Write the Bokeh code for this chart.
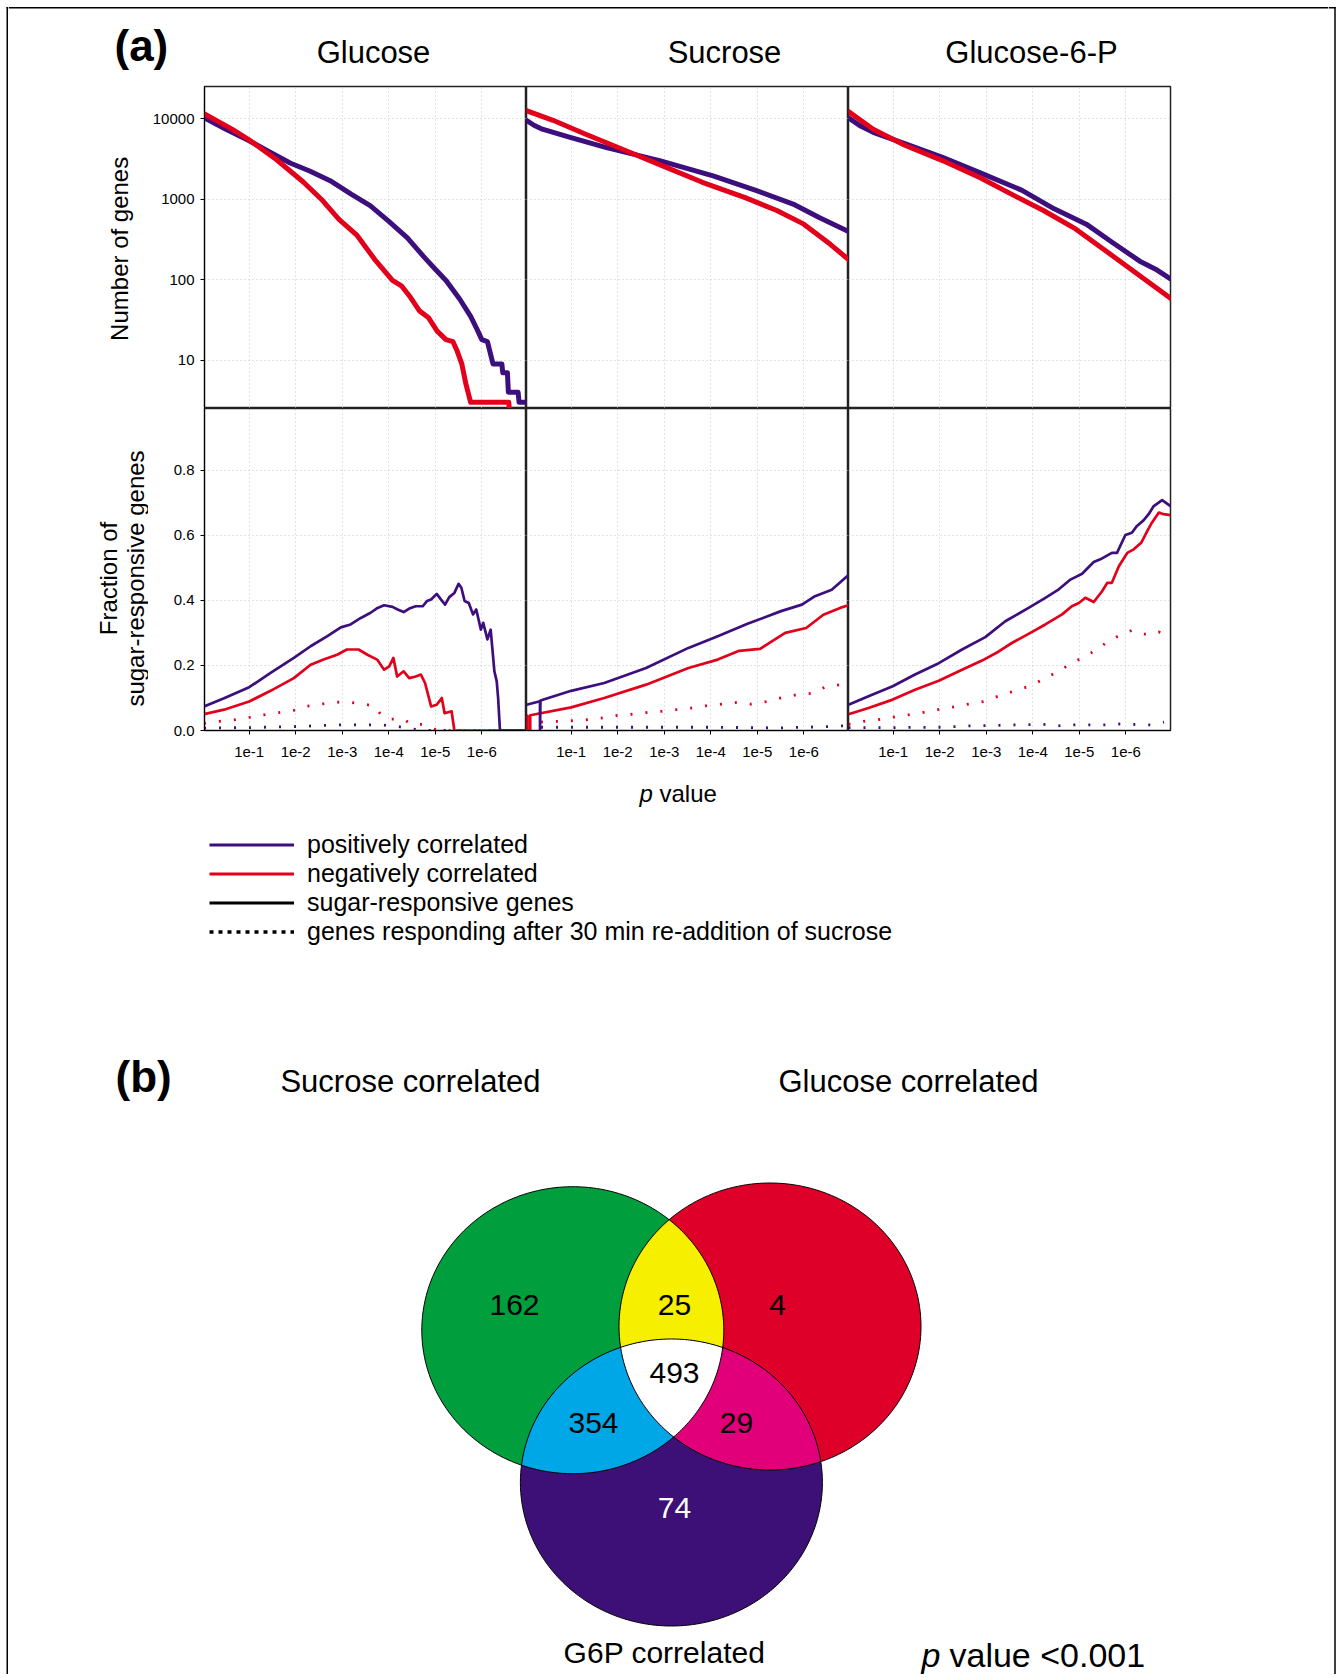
import math
import numpy as np
from bokeh.plotting import figure
from bokeh.layouts import column, row
from bokeh.models import Range1d, FixedTicker, PrintfTickFormatter, Legend, LegendItem
from bokeh.core.properties import value
from bokeh.embed import file_html
from bokeh.resources import INLINE

# ------------------------------------------------------------------ data
panel_titles = ["Glucose", "Sucrose", "Glucose-6-P"]
x_tick_values = [1, 2, 3, 4, 5, 6]
x_tick_labels = ["1e-1", "1e-2", "1e-3", "1e-4", "1e-5", "1e-6"]
count_ticks = [10, 100, 1000, 10000]
fraction_ticks = [0.0, 0.2, 0.4, 0.6, 0.8]
X_RANGE = (0.04, 6.96)
COUNT_RANGE = (10 ** 0.4, 10 ** 4.4)
FRACTION_RANGE = (0.0, 0.99)

# top row: number of genes (x = -log10 p)
glc_n_pos_x = [0.04, 0.50, 0.99, 1.40, 1.88, 2.30, 2.74, 3.20, 3.60, 3.99, 4.40, 4.76, 5.00, 5.23,
               5.52, 5.76, 5.90, 6.00, 6.12, 6.24, 6.43, 6.45, 6.55, 6.57, 6.78, 6.80, 6.96]
glc_n_pos_y = [10233, 7400, 5370, 3981, 2818, 2239, 1698, 1148, 832, 537, 331, 191, 135, 98,
               58, 35, 24, 18, 17, 9, 9, 7, 7, 4, 4, 3, 3]
glc_n_neg_x = [0.04, 0.63, 0.99, 1.59, 2.17, 2.55, 2.93, 3.32, 3.70, 4.08, 4.28, 4.47, 4.66, 4.85,
               5.04, 5.23, 5.38, 5.47, 5.57, 5.66, 5.76, 6.58, 6.60]
glc_n_neg_y = [11482, 7413, 5495, 3090, 1622, 1000, 562, 355, 178, 98, 83, 60, 41, 34,
               23, 18, 17, 13, 9, 5, 3, 3, 2]
suc_n_pos_x = [0.04, 0.20, 0.38, 0.96, 1.76, 2.90, 4.05, 4.97, 5.77, 6.34, 6.96]
suc_n_pos_y = [9550, 8300, 7413, 5888, 4365, 3020, 1950, 1288, 871, 589, 398]
suc_n_neg_x = [0.04, 0.61, 1.30, 2.10, 2.90, 3.82, 4.74, 5.42, 6.00, 6.57, 6.96]
suc_n_neg_y = [12589, 9550, 6457, 4169, 2692, 1622, 1047, 724, 490, 275, 178]
g6p_n_pos_x = [0.04, 0.30, 0.57, 1.25, 2.06, 2.86, 3.77, 4.46, 5.15, 5.72, 6.30, 6.64, 6.96]
g6p_n_pos_y = [10233, 8100, 6761, 4898, 3311, 2138, 1288, 759, 490, 288, 170, 135, 102]
g6p_n_neg_x = [0.04, 0.57, 1.25, 2.06, 2.86, 3.55, 4.23, 4.92, 5.61, 6.30, 6.96]
g6p_n_neg_y = [12303, 7413, 4677, 3020, 1862, 1148, 724, 427, 219, 112, 59]

# bottom row: fraction of sugar-responsive genes (solid) and re-addition responders (dotted)
glc_f_pos_x = [0.03, 0.46, 1.0, 1.46, 1.96, 2.32, 2.68, 2.97, 3.18, 3.40, 3.61, 3.76, 3.90, 4.08,
               4.19, 4.32, 4.44, 4.58, 4.73, 4.82, 4.91, 5.03, 5.12, 5.21, 5.30, 5.41, 5.50, 5.56,
               5.63, 5.72, 5.81, 5.88, 5.98, 6.03, 6.12, 6.19, 6.27, 6.32, 6.35, 6.39, 6.96]
glc_f_pos_y = [0.074, 0.099, 0.133, 0.177, 0.223, 0.259, 0.290, 0.317, 0.326, 0.346, 0.362, 0.377,
               0.385, 0.380, 0.372, 0.364, 0.375, 0.382, 0.382, 0.398, 0.403, 0.420, 0.403, 0.387,
               0.410, 0.423, 0.451, 0.439, 0.398, 0.392, 0.357, 0.372, 0.310, 0.331, 0.280, 0.310,
               0.182, 0.151, 0.100, 0.0, 0.0]
glc_f_neg_x = [0.03, 0.46, 1.0, 1.46, 1.96, 2.32, 2.60, 2.89, 3.10, 3.35, 3.54, 3.75, 3.90, 4.01,
               4.10, 4.18, 4.32, 4.44, 4.58, 4.69, 4.78, 4.91, 5.03, 5.14, 5.20, 5.35, 5.41, 6.96]
glc_f_neg_y = [0.050, 0.064, 0.089, 0.122, 0.161, 0.202, 0.218, 0.233, 0.249, 0.249, 0.233, 0.218,
               0.187, 0.197, 0.223, 0.166, 0.182, 0.161, 0.166, 0.172, 0.146, 0.074, 0.079, 0.100,
               0.053, 0.059, 0.0, 0.0]
glc_r_neg_x = [0.03, 0.35, 0.68, 1.0, 1.32, 1.64, 1.96, 2.29, 2.59, 2.89, 3.19, 3.45, 3.68, 3.84,
               4.04, 4.32, 4.49, 4.76, 5.05, 6.96]
glc_r_neg_y = [0.022, 0.028, 0.033, 0.040, 0.048, 0.055, 0.062, 0.076, 0.082, 0.087, 0.086, 0.081,
               0.076, 0.048, 0.035, 0.035, 0.018, 0.019, 0.0, 0.0]
glc_r_pos_x = [0.03, 0.35, 1.0, 1.96, 2.89, 3.84, 4.20, 4.49, 4.80, 6.96]
glc_r_pos_y = [0.007, 0.008, 0.009, 0.012, 0.017, 0.017, 0.012, 0.005, 0.0, 0.0]

suc_f_pos_x = [0.04, 0.33, 0.33, 0.34, 1.0, 1.71, 2.61, 3.52, 4.15, 4.79, 5.51, 5.96, 6.24, 6.60, 6.96]
suc_f_pos_y = [0.079, 0.090, 0.0, 0.092, 0.122, 0.146, 0.192, 0.254, 0.290, 0.328, 0.367, 0.387,
               0.413, 0.433, 0.478]
suc_f_neg_x = [0.04, 0.06, 0.06, 0.12, 0.12, 1.0, 1.71, 2.61, 3.52, 4.15, 4.61, 5.06, 5.60, 6.05,
               6.42, 6.78, 6.96]
suc_f_neg_y = [0.045, 0.045, 0.0, 0.0, 0.047, 0.071, 0.100, 0.141, 0.192, 0.218, 0.245, 0.251,
               0.300, 0.315, 0.356, 0.377, 0.385]
suc_r_neg_x = [0.03, 0.35, 0.66, 1.0, 1.32, 1.64, 1.98, 2.30, 2.61, 2.94, 3.26, 3.58, 3.90, 4.22,
               4.54, 4.87, 5.19, 5.51, 5.84, 6.16, 6.48, 6.78]
suc_r_neg_y = [0.020, 0.026, 0.028, 0.030, 0.033, 0.038, 0.046, 0.050, 0.055, 0.059, 0.064, 0.069,
               0.076, 0.081, 0.086, 0.081, 0.089, 0.100, 0.110, 0.114, 0.135, 0.141]
suc_r_pos_x = [0.03, 2.0, 4.0, 5.5, 6.0, 6.5, 6.96]
suc_r_pos_y = [0.010, 0.010, 0.010, 0.008, 0.010, 0.012, 0.015]

g6p_f_pos_x = [0.04, 0.47, 0.99, 1.47, 1.98, 2.48, 2.98, 3.41, 3.91, 4.27, 4.56, 4.81, 5.06, 5.31,
               5.49, 5.70, 5.81, 5.99, 6.13, 6.24, 6.38, 6.49, 6.60, 6.78, 6.96]
g6p_f_pos_y = [0.079, 0.105, 0.136, 0.172, 0.207, 0.249, 0.287, 0.336, 0.377, 0.408, 0.434, 0.464,
               0.482, 0.518, 0.529, 0.546, 0.546, 0.601, 0.608, 0.629, 0.646, 0.665, 0.690, 0.708, 0.690]
g6p_f_neg_x = [0.04, 0.47, 0.99, 1.47, 1.98, 2.48, 2.91, 3.27, 3.55, 3.91, 4.27, 4.63, 4.84, 4.99,
               5.13, 5.31, 5.49, 5.60, 5.70, 5.85, 6.03, 6.17, 6.33, 6.46, 6.56, 6.71, 6.81, 6.96]
g6p_f_neg_y = [0.050, 0.069, 0.095, 0.125, 0.153, 0.187, 0.215, 0.243, 0.269, 0.297, 0.326, 0.357,
               0.382, 0.392, 0.408, 0.395, 0.428, 0.454, 0.454, 0.505, 0.546, 0.557, 0.577, 0.613,
               0.639, 0.670, 0.665, 0.662]
g6p_r_neg_x = [0.04, 0.36, 0.67, 0.99, 1.32, 1.63, 1.96, 2.28, 2.61, 2.93, 3.25, 3.57, 3.90, 4.21,
               4.52, 4.81, 5.11, 5.39, 5.63, 5.88, 6.13, 6.33, 6.53, 6.71, 6.89]
g6p_r_neg_y = [0.019, 0.028, 0.033, 0.041, 0.048, 0.055, 0.064, 0.072, 0.081, 0.089, 0.105, 0.120,
               0.135, 0.156, 0.180, 0.204, 0.228, 0.249, 0.276, 0.293, 0.308, 0.297, 0.295, 0.303, 0.284]
g6p_r_pos_x = [0.04, 1.0, 2.0, 2.61, 3.57, 4.21, 4.52, 4.81, 5.50, 5.85, 6.53, 6.82]
g6p_r_pos_y = [0.009, 0.009, 0.010, 0.014, 0.017, 0.019, 0.014, 0.017, 0.017, 0.020, 0.017, 0.026]

legend_labels = ["positively correlated", "negatively correlated", "sugar-responsive genes",
                 "genes responding after 30 min re-addition of sucrose"]

venn_set_names = ["Sucrose correlated", "Glucose correlated", "G6P correlated"]
venn_regions = ["Sucrose", "Sucrose+Glucose", "Glucose", "all three", "Sucrose+G6P", "Glucose+G6P", "G6P"]
venn_counts = [162, 25, 4, 493, 354, 29, 74]

# ------------------------------------------------------------------ styles / layout
FONT = "Liberation Sans"
PURPLE = "#3C0F7D"
RED = "#E2001B"
GRID = "#c4c4c4"
EDGE = 8                      # strips that carry the outer frame
W = 1320                      # inner width
HEAD_H = 84
FRAME = 322
AXIS_W = 56
LEFT_W = 196 - AXIS_W
BOT_AXIS_H = 45
TOP_ROW_H = FRAME + 2
BOT_ROW_H = FRAME + BOT_AXIS_H
BOTTOM_H = 899
TOTAL_H = HEAD_H + TOP_ROW_H + BOT_ROW_H + BOTTOM_H
BASE_SHIFT = 0.36             # em; renderer places the alphabetic baseline this much lower


def txt(p, x, y, s, size, align="left", style="normal", color="black", angle=0.0, baseline="alphabetic"):
    if baseline == "alphabetic":
        y = y - BASE_SHIFT * size
    p.text(x=[x], y=[y], text=[s], text_font=value(FONT), text_font_size="%gpx" % size,
           text_align=align, text_baseline=baseline, text_font_style=style,
           text_color=color, angle=angle)


def blank(w, h, flip=True, **kw):
    fh = h - kw.get("min_border_top", 0) - kw.get("min_border_bottom", 0)
    args = dict(min_border=0)
    args.update(kw)
    p = figure(width=w, height=h, output_backend="svg", toolbar_location=None,
               x_range=Range1d(0, w), y_range=Range1d(fh, 0) if flip else Range1d(0, fh),
               x_axis_location=None, y_axis_location=None, **args)
    p.grid.visible = False
    p.outline_line_color = None
    return p


def panel(col, top):
    kw = dict(frame_width=FRAME, frame_height=FRAME, output_backend="svg", toolbar_location=None,
              x_range=Range1d(*X_RANGE),
              min_border_left=AXIS_W if col == 0 else 0,
              min_border_right=2 if col == 2 else 0,
              min_border_top=2 if top else 0,
              min_border_bottom=0 if top else BOT_AXIS_H,
              x_axis_location=None if top else "below",
              y_axis_location="left" if col == 0 else None)
    if top:
        p = figure(y_axis_type="log", y_range=Range1d(*COUNT_RANGE), **kw)
        yt = count_ticks
    else:
        p = figure(y_range=Range1d(*FRACTION_RANGE), **kw)
        yt = fraction_ticks
    p.xgrid.ticker = FixedTicker(ticks=x_tick_values)
    p.ygrid.ticker = FixedTicker(ticks=yt)
    p.grid.grid_line_color = GRID
    p.grid.grid_line_dash = "1 3"
    p.grid.grid_line_width = 1
    p.outline_line_color = "#222222"
    p.outline_line_width = 1.5
    for ax in p.xaxis:
        ax.ticker = FixedTicker(ticks=x_tick_values)
        ax.major_label_overrides = dict(zip(x_tick_values, x_tick_labels))
        ax.major_label_text_font_size = "15px"
        ax.major_label_standoff = 12
    for ax in p.yaxis:
        ax.ticker = FixedTicker(ticks=yt)
        ax.formatter = PrintfTickFormatter(format="%d" if top else "%.1f")
        ax.major_label_text_font_size = "15px"
        ax.major_label_standoff = 6
    for ax in list(p.xaxis) + list(p.yaxis):
        ax.major_tick_out = 4
        ax.major_tick_in = 0
        ax.minor_tick_line_color = None
        ax.axis_line_color = "black"
        ax.major_tick_line_color = "black"
        ax.major_label_text_font = FONT
        ax.major_label_text_color = "black"
    return p


top_series = [(glc_n_pos_x, glc_n_pos_y, glc_n_neg_x, glc_n_neg_y),
              (suc_n_pos_x, suc_n_pos_y, suc_n_neg_x, suc_n_neg_y),
              (g6p_n_pos_x, g6p_n_pos_y, g6p_n_neg_x, g6p_n_neg_y)]
bot_series = [(glc_f_pos_x, glc_f_pos_y, glc_f_neg_x, glc_f_neg_y, glc_r_pos_x, glc_r_pos_y, glc_r_neg_x, glc_r_neg_y),
              (suc_f_pos_x, suc_f_pos_y, suc_f_neg_x, suc_f_neg_y, suc_r_pos_x, suc_r_pos_y, suc_r_neg_x, suc_r_neg_y),
              (g6p_f_pos_x, g6p_f_pos_y, g6p_f_neg_x, g6p_f_neg_y, g6p_r_pos_x, g6p_r_pos_y, g6p_r_neg_x, g6p_r_neg_y)]

top_panels = []
for c, (px, py, nx, ny) in enumerate(top_series):
    p = panel(c, True)
    p.line(px, py, line_color=PURPLE, line_width=5, line_cap="round", line_join="round")
    p.line(nx, ny, line_color=RED, line_width=5, line_cap="round", line_join="round")
    top_panels.append(p)

bot_panels = []
for c, (px, py, nx, ny, rpx, rpy, rnx, rny) in enumerate(bot_series):
    p = panel(c, False)
    p.line(rnx, rny, line_color=RED, line_width=2.8, line_dash="2 13")
    p.line(rpx, rpy, line_color=PURPLE, line_width=2.8, line_dash="2 13")
    p.line(nx, ny, line_color=RED, line_width=2.7, line_join="round")
    p.line(px, py, line_color=PURPLE, line_width=2.7, line_join="round")
    bot_panels.append(p)

# outer frame strips
lstrip = blank(EDGE, TOTAL_H)
lstrip.segment(x0=[6.75], y0=[6.5], x1=[6.75], y1=[TOTAL_H], line_color="black", line_width=1.5)
lstrip.segment(x0=[6.0], y0=[7.25], x1=[EDGE], y1=[7.25], line_color="black", line_width=1.5)
rstrip = blank(EDGE, TOTAL_H)
rstrip.segment(x0=[6.5], y0=[6.5], x1=[6.5], y1=[TOTAL_H], line_color="black", line_width=1.5)
rstrip.segment(x0=[0], y0=[7.25], x1=[7.25], y1=[7.25], line_color="black", line_width=1.5)

# header
head = blank(W, HEAD_H)
head.segment(x0=[0], y0=[7.25], x1=[W], y1=[7.25], line_color="black", line_width=1.5)
txt(head, 106, 61, "(a)", 44, style="bold")
for t, cx in zip(panel_titles, [365, 716, 1023]):
    txt(head, cx, 63, t, 31, align="center")

# y-axis titles
lt = blank(LEFT_W, TOP_ROW_H, flip=False, min_border_top=2)
txt(lt, 111, 163, "Number  of genes", 24, align="center", baseline="middle", angle=math.pi / 2)
lb = blank(LEFT_W, BOT_ROW_H, flip=False, min_border_bottom=BOT_AXIS_H)
txt(lb, 100, 152, "Fraction of", 24, align="center", baseline="middle", angle=math.pi / 2)
txt(lb, 127, 152, "sugar-responsive genes", 24, align="center", baseline="middle", angle=math.pi / 2)

# bottom area: x-axis title, legend, Venn diagram
bot = blank(W, BOTTOM_H)
txt(bot, 631, 27, "p", 24, style="italic")
txt(bot, 651, 27, "value", 24)

leg_styles = [(PURPLE, None, 3.2), (RED, None, 3.2), ("black", None, 3.2), ("black", "4 5", 3.5)]
items = []
for lab, (colr, dash, lw) in zip(legend_labels, leg_styles):
    kwl = dict(line_color=colr, line_width=lw)
    if dash:
        kwl["line_dash"] = dash
    r = bot.line(x=[-50, -40], y=[-50, -50], **kwl)
    items.append(LegendItem(label=lab, renderers=[r]))
legend = Legend(items=items, location=(201, BOTTOM_H - 171), orientation="vertical",
                glyph_width=85, glyph_height=27, label_height=27, label_standoff=13,
                spacing=0, padding=0, margin=0, border_line_color=None,
                background_fill_alpha=0, label_text_font=FONT, label_text_font_size="25px",
                label_text_line_height=1.0, label_text_color="black")
bot.add_layout(legend)

txt(bot, 107, 317, "(b)", 44, style="bold")
txt(bot, 402, 317, venn_set_names[0], 31, align="center")
txt(bot, 900, 317, venn_set_names[1], 31, align="center")
txt(bot, 656, 888, venn_set_names[2], 30, align="center")
txt(bot, 913, 892, "p", 34, style="italic")
txt(bot, 941, 892, "value <0.001", 34)

# Venn geometry (layout, pixels of the bottom area)
RX, RY = 151.0, 143.5
centers = {"S": (564.3, 554.7), "G": (761.5, 551.0), "P": (662.9, 707.0)}


def ellipse(c, n=360):
    t = np.linspace(0, 2 * np.pi, n, endpoint=False)
    return [(c[0] + RX * math.cos(a), c[1] + RY * math.sin(a)) for a in t]


def area(poly):
    s = 0.0
    for i in range(len(poly)):
        x1, y1 = poly[i]
        x2, y2 = poly[(i + 1) % len(poly)]
        s += x1 * y2 - x2 * y1
    return s / 2


def clip(subject, clipper):
    sgn = 1.0 if area(clipper) > 0 else -1.0
    out = subject
    n = len(clipper)
    for i in range(n):
        a = clipper[i]
        b = clipper[(i + 1) % n]
        inp, out = out, []
        if not inp:
            break

        def inside(q):
            return sgn * ((b[0] - a[0]) * (q[1] - a[1]) - (b[1] - a[1]) * (q[0] - a[0])) >= 0

        def inter(p1, p2):
            dx1, dy1 = p2[0] - p1[0], p2[1] - p1[1]
            dx2, dy2 = b[0] - a[0], b[1] - a[1]
            den = dx1 * dy2 - dy1 * dx2
            if den == 0:
                return p2
            t = ((a[0] - p1[0]) * dy2 - (a[1] - p1[1]) * dx2) / den
            return (p1[0] + t * dx1, p1[1] + t * dy1)

        prev = inp[-1]
        for cur in inp:
            if inside(cur):
                if not inside(prev):
                    out.append(inter(prev, cur))
                out.append(cur)
            elif inside(prev):
                out.append(inter(prev, cur))
            prev = cur
    return out


E = {k: ellipse(v) for k, v in centers.items()}
SG = clip(E["S"], E["G"])
SP = clip(E["S"], E["P"])
GP = clip(E["G"], E["P"])
SGP = clip(SG, E["P"])
fills = [(E["S"], "#009E3D"), (E["G"], "#DF0029"), (E["P"], "#3D1078"),
         (SG, "#F6EF00"), (SP, "#00A7E6"), (GP, "#E2007A"), (SGP, "#FFFFFF")]
for poly, colr in fills:
    bot.patch([q[0] for q in poly], [q[1] for q in poly], fill_color=colr, line_color=None)
for k in ["S", "G", "P"]:
    poly = E[k] + [E[k][0]]
    bot.line([q[0] for q in poly], [q[1] for q in poly], line_color="black", line_width=1)

label_pos = [(506, 540), (666, 540), (769, 540), (666, 608), (585, 658), (728, 658), (666, 743)]
label_col = ["black", "black", "black", "black", "black", "black", "white"]
for (lx, ly), cnt, colr in zip(label_pos, venn_counts, label_col):
    txt(bot, lx, ly, str(cnt), 30, align="center", color=colr)

inner = column(head,
               row(lt, *top_panels),
               row(lb, *bot_panels),
               bot)
layout = row(lstrip, inner, rstrip)

open("out.html", "w").write(file_html(layout, INLINE))
